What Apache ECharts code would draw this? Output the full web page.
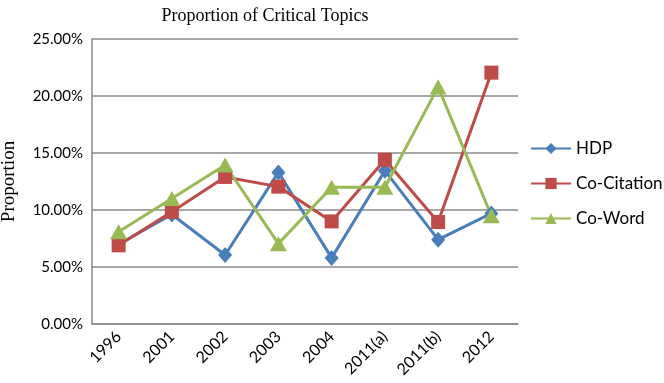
<!DOCTYPE html>
<html><head><meta charset="utf-8">
<script src="https://cdn.jsdelivr.net/npm/echarts@6/dist/echarts.min.js"></script>
<style>html,body{margin:0;padding:0;background:#fff}#c{width:664px;height:383px}</style>
</head><body><div id="c"></div>
<script>
const categories = ['1996','2001','2002','2003','2004','2011(a)','2011(b)','2012'];
const hdp = [7.0, 9.6, 6.05, 13.3, 5.8, 13.45, 7.4, 9.7];
const coCitation = [6.9, 9.85, 12.9, 12.05, 9.0, 14.4, 8.95, 22.05];
const coWord = [8.1, 11.0, 13.95, 7.05, 12.0, 12.0, 20.8, 9.5];
const yTicks = [0, 5, 10, 15, 20, 25];

const chart = echarts.init(document.getElementById('c'));
const sansFont = 'Lato';
function ser(name, data, color, symbol, size) {
  return {
    name, type: 'line', data, symbol, symbolSize: size,
    lineStyle: { color, width: 3 },
    itemStyle: { color },
    z: 3
  };
}
chart.setOption({
  animation: false,
  title: {
    text: 'Proportion of Critical Topics',
    left: 260, top: 2, textAlign: 'center',
    textStyle: { fontFamily: 'Liberation Serif', fontWeight: 'normal', fontSize: 18, color: '#000' }
  },
  grid: { left: 92, right: 146, top: 39, bottom: 59, containLabel: false, outerBoundsMode: 'none' },
  legend: {
    orient: 'vertical', left: 530, top: 140, itemGap: 18, padding: 0,
    itemWidth: 40, itemHeight: 14,
    textStyle: { fontFamily: sansFont, fontSize: 17, color: '#000' },
    data: ['HDP', 'Co-Citation', 'Co-Word']
  },
  xAxis: {
    type: 'category', data: categories, boundaryGap: true,
    axisLine: { lineStyle: { color: '#8a8a8a', width: 1.5 } },
    axisTick: { show: false },
    axisLabel: { rotate: 45, fontFamily: sansFont, fontSize: 16, color: '#000', margin: 10 }
  },
  yAxis: {
    type: 'value', min: yTicks[0], max: yTicks[yTicks.length - 1], interval: 5,
    name: 'Proportion', nameLocation: 'middle', nameGap: 73, nameRotate: 90,
    nameTextStyle: { fontFamily: 'Liberation Serif', fontSize: 19, color: '#000' },
    axisLine: { show: true, lineStyle: { color: '#8a8a8a', width: 1.5 } },
    axisTick: { show: false },
    splitLine: { lineStyle: { color: '#8a8a8a', width: 1.5 } },
    axisLabel: { formatter: v => v.toFixed(2) + '%', fontFamily: sansFont, fontSize: 15, color: '#000', margin: 9 }
  },
  series: [
    ser('HDP', hdp, '#4a7ebb', 'diamond', [14, 16]),
    ser('Co-Citation', coCitation, '#be4b48', 'rect', 14),
    ser('Co-Word', coWord, '#98b954', 'triangle', [17, 15])
  ]
});
</script></body></html>
